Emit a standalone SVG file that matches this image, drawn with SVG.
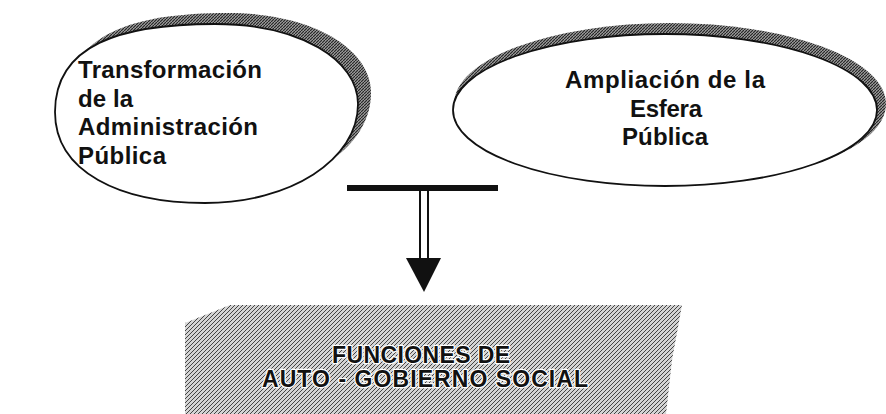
<svg xmlns="http://www.w3.org/2000/svg" width="886" height="414" viewBox="0 0 886 414">
<style>
.lbl{font-family:"Liberation Sans",Arial,sans-serif;font-weight:bold;font-size:24px;fill:#111}
.box{font-family:"Liberation Sans",Arial,sans-serif;font-weight:bold;font-size:23px;fill:#111;stroke:#fff;stroke-width:2.5;paint-order:stroke;stroke-linejoin:round}
.ell{fill:#fff;stroke:#111;stroke-width:1.8}
.shadow{fill:url(#dots)}
</style>
<defs>
<pattern id="dots" patternUnits="userSpaceOnUse" width="3" height="3">
<rect width="3" height="3" fill="#9a9a9a"/>
<path d="M0,3 L3,0" stroke="#222" stroke-width="1.1"/>
</pattern>
<pattern id="tex" patternUnits="userSpaceOnUse" width="4" height="4">
<rect width="4" height="4" fill="#d4d4d4"/>
<path d="M0,4 L4,0 M-1,1 L1,-1 M3,5 L5,3" stroke="#444" stroke-width="1"/>
</pattern>
<path id="lshape" d="M55,112 C55,45 120,24 215,24 C300,24 358,60 358,104 C358,160 290,203 205,203 C120,203 55,172 55,112 Z"/>
</defs>
<g id="node-transformacion">
<use href="#lshape" class="shadow" transform="translate(13,-11)"/>
<use href="#lshape" class="ell"/>
<text class="lbl" x="78" y="78" textLength="184" lengthAdjust="spacing">Transformación</text>
<text class="lbl" x="78" y="107" textLength="55" lengthAdjust="spacing">de la</text>
<text class="lbl" x="78" y="135" textLength="180" lengthAdjust="spacing">Administración</text>
<text class="lbl" x="78" y="164" textLength="88" lengthAdjust="spacing">Pública</text>
</g>
<g id="node-ampliacion">
<ellipse class="shadow" cx="670" cy="104" rx="216" ry="81"/>
<ellipse class="ell" cx="665" cy="110" rx="212" ry="76"/>
<text class="lbl" x="565" y="88" textLength="200" lengthAdjust="spacing">Ampliación de la</text>
<text class="lbl" x="630" y="117" textLength="72" lengthAdjust="spacing">Esfera</text>
<text class="lbl" x="622" y="145" textLength="86" lengthAdjust="spacing">Pública</text>
</g>
<g id="node-funciones">
<polygon points="185,323 230,305 682,305 672,360 666,414 185,414" fill="url(#tex)"/>
<text class="box" x="332" y="363" textLength="178" lengthAdjust="spacing">FUNCIONES DE</text>
<text class="box" x="262" y="387" textLength="326" lengthAdjust="spacing">AUTO - GOBIERNO SOCIAL</text>
</g>
<g id="connectors">
<rect x="347" y="185" width="151" height="6" fill="#111"/>
<rect x="420" y="190" width="8" height="69" fill="#fff" stroke="#111" stroke-width="2"/>
<polygon points="406,258 441,258 424,292" fill="#111"/>
</g>
</svg>
